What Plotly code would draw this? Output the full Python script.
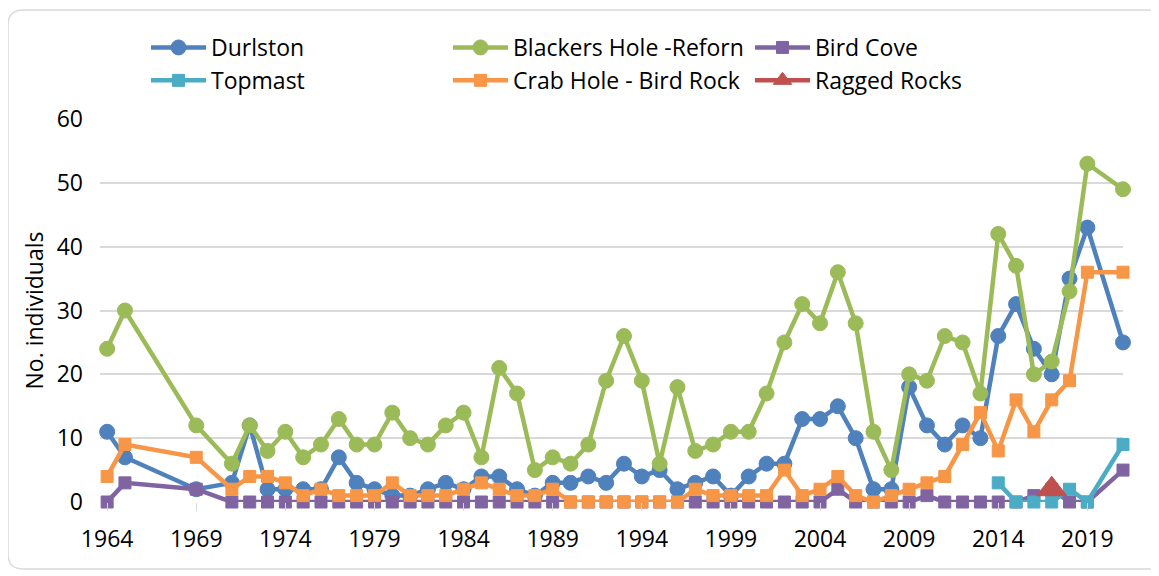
import plotly.graph_objects as go

# survey years (no counts for 1966-68, 1970 and 2020)
years = [1964, 1965, 1969] + list(range(1971, 2020)) + [2021]

durlston = [11, 7, 2, 3, 12, 2, 2, 2, 2, 7, 3, 2, 1, 1, 2, 3, 2, 4, 4, 2,
            1, 3, 3, 4, 3, 6, 4, 5, 2, 3, 4, 1, 4, 6, 6, 13, 13, 15, 10, 2,
            2, 18, 12, 9, 12, 10, 26, 31, 24, 20, 35, 43, 25]
blackers = [24, 30, 12, 6, 12, 8, 11, 7, 9, 13, 9, 9, 14, 10, 9, 12, 14, 7, 21, 17,
            5, 7, 6, 9, 19, 26, 19, 6, 18, 8, 9, 11, 11, 17, 25, 31, 28, 36, 28, 11,
            5, 20, 19, 26, 25, 17, 42, 37, 20, 22, 33, 53, 49]
bird_cove = [0, 3, 2, 0, 0, 0, 0, 0, 0, 0, 0, 0, 0, 0, 0, 0, 0, 0, 0, 0,
             0, 0, 0, 0, 0, 0, 0, 0, 0, 0, 0, 0, 0, 0, 0, 0, 0, 2, 0, 0,
             0, 0, 1, 0, 0, 0, 0, 0, 1, 2, 0, 0, 5]
crab_hole = [4, 9, 7, 2, 4, 4, 3, 1, 2, 1, 1, 1, 3, 1, 1, 1, 2, 3, 2, 1,
             1, 2, 0, 0, 0, 0, 0, 0, 0, 2, 1, 1, 1, 1, 5, 1, 2, 4, 1, 0,
             1, 2, 3, 4, 9, 14, 8, 16, 11, 16, 19, 36, 36]

topmast_years = [2014, 2015, 2016, 2017, 2018, 2019, 2021]
topmast = [3, 0, 0, 0, 2, 0, 9]

ragged_years = [2017]
ragged = [2]

x_ticks = list(range(1964, 2020, 5))
y_ticks = list(range(0, 61, 10))

# the page body adds an 8px offset; positions below are in window pixels
OFF = 8
W, H = 1159, 576
PL, PR, PT, PB = 100, 1123, 119, 502  # plot area in window pixels
ML, MR, MT, MB = PL - OFF, W - (PR - OFF), PT - OFF, H - (PB - OFF)
FONT = "Open Sans"
FS = 23

fig = go.Figure()


def add_series(x, y, name, color, symbol, size):
    fig.add_trace(go.Scatter(
        x=x, y=y, name=name, mode="lines+markers",
        line=dict(color=color, width=4.5),
        marker=dict(color=color, symbol=symbol, size=size,
                    line=dict(color=color, width=1)),
        cliponaxis=False,
    ))


add_series(years, durlston, "Durlston", "#4F81BD", "circle", 15)
add_series(years, blackers, "Blackers Hole -Reforn", "#9BBB59", "circle", 15)
add_series(years, bird_cove, "Bird Cove", "#8064A2", "square", 12)
add_series(topmast_years, topmast, "Topmast", "#4BACC6", "square", 12)
add_series(years, crab_hole, "Crab Hole - Bird Rock", "#F79646", "square", 12)
add_series(ragged_years, ragged, "Ragged Rocks", "#C0504D", "triangle-up", 26)


# window pixels -> paper units
def px(x):
    return (x - PL) / (PR - PL)


def py(y):
    return (PB - y) / (PB - PT)


x0, x1, y0, y1, r = 8, 1162, 10, 569, 15
path = (f"M {px(x0 + r)},{py(y0)} L {px(x1 - r)},{py(y0)} "
        f"Q {px(x1)},{py(y0)} {px(x1)},{py(y0 + r)} "
        f"L {px(x1)},{py(y1 - r)} Q {px(x1)},{py(y1)} {px(x1 - r)},{py(y1)} "
        f"L {px(x0 + r)},{py(y1)} Q {px(x0)},{py(y1)} {px(x0)},{py(y1 - r)} "
        f"L {px(x0)},{py(y0 + r)} Q {px(x0)},{py(y0)} {px(x0 + r)},{py(y0)} Z")
fig.add_shape(type="path", path=path, xref="paper", yref="paper",
              line=dict(color="#d9d9d9", width=1.5), layer="below")

fig.update_layout(
    width=W, height=H,
    margin=dict(l=ML, r=MR, t=MT, b=MB),
    paper_bgcolor="white", plot_bgcolor="white",
    font=dict(family=FONT, size=FS, color="#000000"),
    showlegend=True,
    legend=dict(
        orientation="h", x=px(146), y=py(26), xanchor="left", yanchor="top",
        entrywidth=232, itemwidth=55, font=dict(size=FS),
        bgcolor="rgba(0,0,0,0)", tracegroupgap=0,
    ),
    xaxis=dict(
        range=[1963.6, 2021.0], tickvals=x_ticks, showgrid=False,
        zeroline=False, showline=False, ticks="outside", ticklen=8,
        tickcolor="#d9d9d9", tickfont=dict(size=FS), ticklabelstandoff=8,
    ),
    yaxis=dict(
        range=[0, 60], tickvals=y_ticks, showgrid=True, gridcolor="#d9d9d9",
        gridwidth=1.5, zeroline=False, showline=False, ticks="",
        ticklabelstandoff=16, tickfont=dict(size=FS),
        title=dict(text="No. individuals", font=dict(size=FS), standoff=6),
    ),
)

fig.write_html("out.html")
